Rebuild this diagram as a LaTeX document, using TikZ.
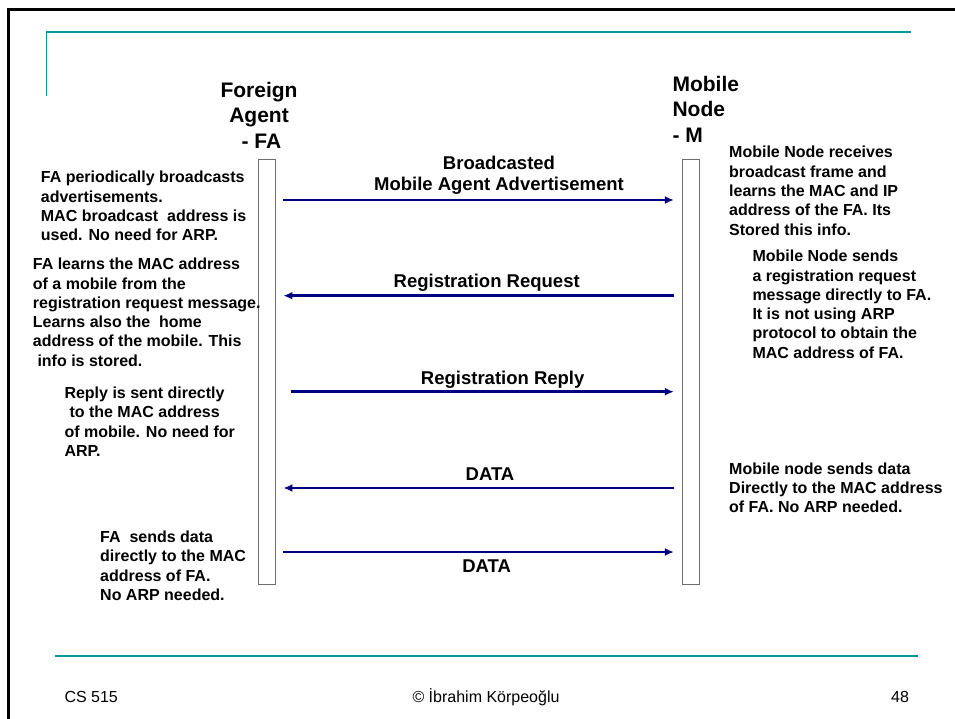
\documentclass[tikz,border=0pt]{standalone}
\usepackage{fontspec}
\setmainfont{Liberation Sans}
\usetikzlibrary{arrows.meta}
\definecolor{navyc}{RGB}{0,0,128}
\definecolor{tealc}{RGB}{0,153,153}
\definecolor{boxc}{RGB}{110,110,110}
\begin{document}
\begin{tikzpicture}[x=1pt,y=-1pt,
  note/.style={anchor=base west, align=left, inner sep=0pt, font=\fontsize{16}{19.3}\selectfont\bfseries},
  msglabel/.style={anchor=base, align=center, inner sep=0pt, font=\fontsize{18.5}{21.3}\selectfont\bfseries},
  title/.style={anchor=base, inner sep=0pt, font=\fontsize{21}{25.5}\selectfont\bfseries},
  foot/.style={anchor=base, inner sep=0pt, font=\fontsize{16}{19}\selectfont},
  life/.style={draw=boxc, fill=white, line width=1pt, minimum height=424.7pt, inner sep=0pt},
  msg/.style={draw=navyc, line width=2.8pt, -{Latex[length=9pt,width=8pt]}},
  frameline/.style={line width=2.5pt, black},
  tealline/.style={line width=1.7pt, tealc}]
\useasboundingbox (0,0) rectangle (955,719);
% frame
\draw[frameline] (8.5,719) -- (8.5,9.5) -- (955,9.5);
\draw[tealline] (46.5,95.7) -- (46.5,32) -- (910.7,32);
\draw[tealline] (55,655.7) -- (918.3,655.7);
% lifelines
\node[life, minimum width=16.3pt] (fa) at (267.1,371.7) {};
\node[life, minimum width=16.7pt] (m) at (690.7,371.7) {};
% titles (base anchor = last line)
\node[title, align=center] (tfa) at (259,148.5) {Foreign\\Agent\\\hspace{5pt}- FA};
\node[title, align=left, anchor=base west] (tm) at (672.3,142.5) {Mobile\\Node\\- M};
% messages
\draw[msg, shorten <=7.4pt, shorten >=8pt] (fa.east |- 0,200) -- (m.west |- 0,200);
\draw[msg, shorten <=7.8pt, shorten >=7.7pt] (m.west |- 0,295.7) -- (fa.east |- 0,295.7);
\draw[msg, shorten <=15.4pt, shorten >=8pt] (fa.east |- 0,391.7) -- (m.west |- 0,391.7);
\draw[msg, shorten <=7.8pt, shorten >=7.7pt] (m.west |- 0,488) -- (fa.east |- 0,488);
\draw[msg, shorten <=7.4pt, shorten >=8pt] (fa.east |- 0,552) -- (m.west |- 0,552);
% message labels
\node[msglabel] (l1) at (499,190.6) {Broadcasted\\Mobile Agent Advertisement};
\node[msglabel] (l2) at (486.7,287.3) {Registration Request};
\node[msglabel] (l3) at (502.7,384.3) {Registration Reply};
\node[msglabel] (l4) at (490,480.6) {DATA};
\node[msglabel] (l5) at (486.7,572.6) {DATA};
% left notes
\node[note] (n1) at (40.7,240.9) {FA periodically broadcasts\\advertisements.\\MAC broadcast\ \ address is\\used. No need for ARP.};
\node[note] (n2) at (32.7,366.2) {FA learns the MAC address\\of a mobile from the\\registration request message.\\Learns also the\ \ home\\address of the mobile. This\\\hspace{4.6pt}info is stored.};
\node[note] (n3) at (64.3,456.3) {Reply is sent directly\\\hspace{5pt}to the MAC address\\of mobile. No need for\\ARP.};
\node[note] (n4) at (100,600.3) {FA\ \ sends data\\directly to the MAC\\address of FA.\\No ARP needed.};
% right notes
\node[note] (r1) at (729,235.2) {Mobile Node receives\\broadcast frame and\\learns the MAC and IP\\address of the FA. Its\\Stored this info.};
\node[note] (r2) at (752.3,358.2) {Mobile Node sends\\a registration request\\message directly to FA.\\It is not using ARP\\protocol to obtain the\\MAC address of FA.};
\node[note] (r3) at (729,512.6) {Mobile node sends data\\Directly to the MAC address\\of FA. No ARP needed.};
% footer
\node[foot, anchor=base west] (cs) at (64.3,702.7) {CS 515};
\node[foot] (cp) at (486,702.7) {© İbrahim Körpeoğlu};
\node[foot] (pg) at (900,702.7) {48};
\end{tikzpicture}
\end{document}
